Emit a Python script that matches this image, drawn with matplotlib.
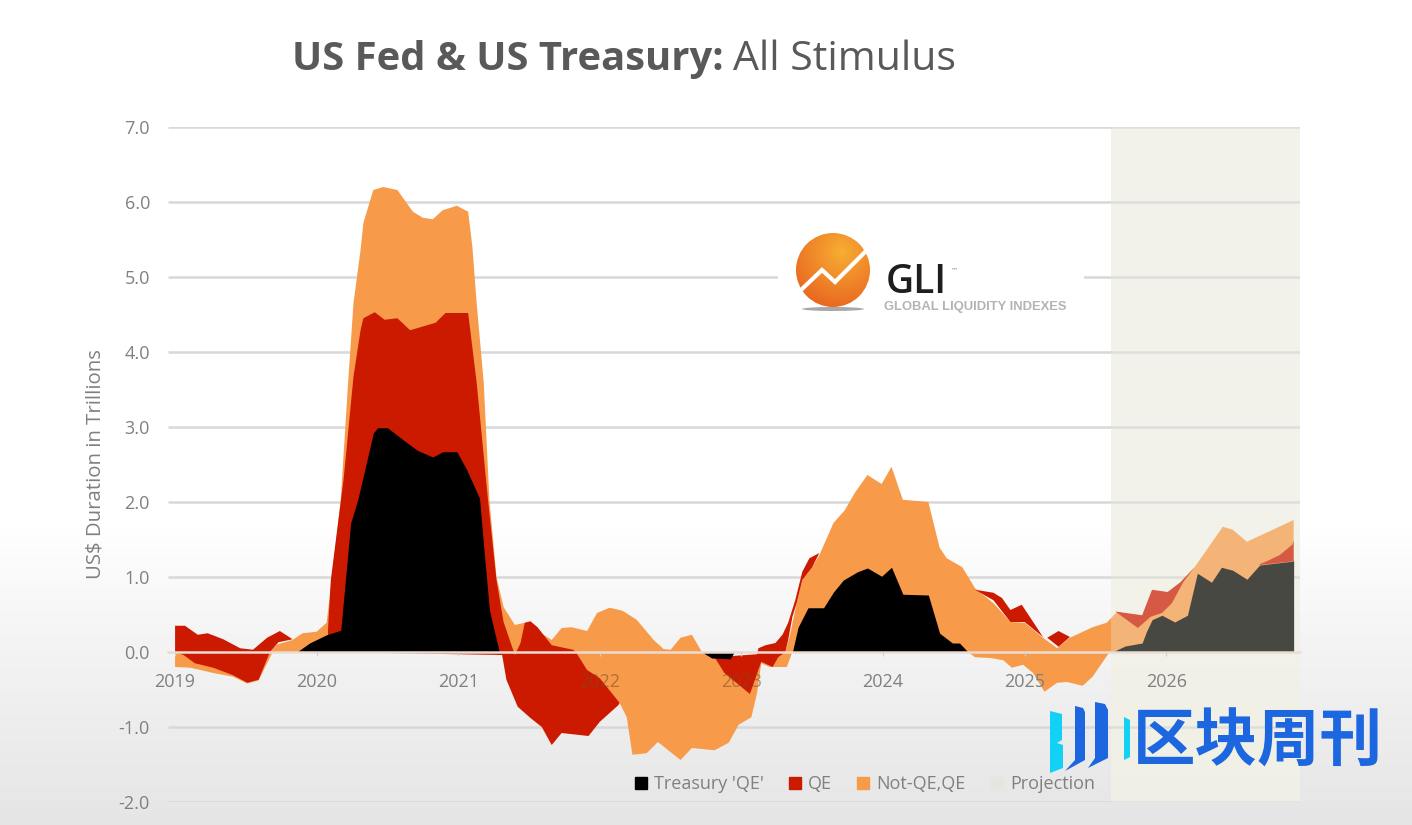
import numpy as np
import matplotlib
matplotlib.use("Agg")
import matplotlib.pyplot as plt
from matplotlib.patches import Patch, Circle, Ellipse, Polygon, Rectangle

# ---------- data (US$ trillions, x in decimal years) ----------
year_ticks = [2019, 2020, 2021, 2022, 2023, 2024, 2025, 2026]
y_ticks = [-2, -1, 0, 1, 2, 3, 4, 5, 6, 7]

orange_top_x = [2019.00,2019.67,2019.72,2019.83,2019.90,2020.00,2020.07,2020.09,2020.17,2020.22,2020.26,2020.31,2020.33,2020.40,2020.47,2020.57,2020.68,2020.75,2020.82,2020.89,2020.99,2021.07,2021.10,2021.13,2021.18,2021.22,2021.27,2021.32,2021.40,2021.47,2021.66,2021.73,2021.80,2021.91,2021.98,2022.07,2022.16,2022.26,2022.38,2022.45,2022.50,2022.57,2022.65,2022.72,2022.81,2023.11,2023.24,2023.31,2023.34,2023.39,2023.43,2023.50,2023.55,2023.65,2023.73,2023.80,2023.89,2023.99,2024.06,2024.14,2024.32,2024.40,2024.45,2024.56,2024.65,2024.78,2024.90,2025.00,2025.13,2025.23,2025.32,2025.48,2025.58,2025.65,2025.83,2025.90,2026.01,2026.10,2026.20,2026.40,2026.47,2026.57,2026.90]
orange_top_y = [0,0,0.10,0.16,0.25,0.27,0.39,0.70,2.03,3.53,4.65,5.36,5.72,6.16,6.20,6.16,5.87,5.79,5.77,5.89,5.95,5.87,5.40,4.65,3.59,2.03,1.00,0.60,0.36,0.39,0.16,0.32,0.33,0.28,0.52,0.59,0.55,0.43,0.16,0.04,0.03,0.19,0.23,0,-0.06,-0.05,-0.05,0.0,0.2,0.65,0.96,1.13,1.29,1.72,1.89,2.12,2.36,2.24,2.47,2.03,2.00,1.39,1.25,1.13,0.85,0.65,0.40,0.39,0.19,0.05,0.19,0.33,0.39,0.53,0.48,0.70,0.75,0.90,1.13,1.67,1.63,1.47,1.76]
orange_low_x = [2019.00,2019.11,2019.27,2019.41,2019.51,2019.59,2019.65,2019.69,2021.29,2021.40,2021.47,2021.60,2022.14,2022.19,2022.23,2022.33,2022.41,2022.57,2022.65,2022.81,2022.91,2022.98,2023.07,2023.11,2023.14,2023.20,2023.32,2023.36,2024.60,2024.65,2024.76,2024.85,2024.91,2024.99,2025.06,2025.14,2025.23,2025.30,2025.41,2025.48,2025.60,2026.90]
orange_low_y = [-0.20,-0.21,-0.28,-0.33,-0.42,-0.38,-0.15,0,0,-0.07,-0.07,-0.30,-0.68,-0.87,-1.37,-1.35,-1.20,-1.44,-1.28,-1.31,-1.21,-0.97,-0.87,-0.55,-0.15,-0.20,-0.20,0,0,-0.07,-0.08,-0.11,-0.21,-0.17,-0.28,-0.53,-0.41,-0.40,-0.45,-0.33,0,0]

treasury_x = [2019.86,2019.95,2020.07,2020.17,2020.24,2020.29,2020.40,2020.43,2020.50,2020.61,2020.71,2020.82,2020.89,2020.99,2021.06,2021.15,2021.18,2021.22,2021.29,2022.72,2022.79,2022.92,2022.95,2023.36,2023.40,2023.47,2023.58,2023.65,2023.72,2023.82,2023.89,2023.99,2024.06,2024.14,2024.32,2024.40,2024.49,2024.54,2024.60,2025.62,2025.71,2025.83,2025.86,2025.90,2025.97,2026.06,2026.15,2026.22,2026.32,2026.39,2026.47,2026.57,2026.66,2026.89,2026.90]
treasury_y = [0,0.12,0.23,0.29,1.72,2.03,2.92,2.99,2.99,2.83,2.69,2.60,2.67,2.67,2.43,2.05,1.40,0.56,0,0,-0.08,-0.09,0,0,0.33,0.59,0.59,0.80,0.96,1.07,1.12,1.01,1.13,0.77,0.76,0.25,0.12,0.12,0,0,0.08,0.12,0.27,0.43,0.49,0.40,0.49,1.05,0.93,1.13,1.09,0.97,1.16,1.21,1.22]

# QE bands: (top x, top y, bottom x, bottom y)
qe_2019 = ([2019.00,2019.07,2019.16,2019.23,2019.34,2019.46,2019.55,2019.65,2019.74,2019.83],
           [0.35,0.35,0.23,0.25,0.17,0.05,0.03,0.19,0.28,0.17],
           [2019.00,2019.06,2019.14,2019.27,2019.41,2019.51,2019.59,2019.67,2019.73,2019.83],
           [0,-0.04,-0.15,-0.21,-0.31,-0.41,-0.37,0,0.13,0.17])
qe_2020 = ([2020.08,2020.10,2020.19,2020.26,2020.31,2020.33,2020.41,2020.48,2020.57,2020.66,2020.84,2020.91,2021.07,2021.13,2021.21,2021.27,2021.32,2021.34,2021.40,2021.44,2021.47,2021.51,2021.56,2021.66,2021.81,2021.83,2021.91,2022.00,2022.14],
           [0.30,0.96,2.30,3.67,4.29,4.45,4.53,4.43,4.45,4.29,4.39,4.52,4.52,3.59,2.03,0.96,0.40,0.29,-0.04,0.12,0.39,0.41,0.33,0.09,0.03,0,-0.24,-0.35,-0.68],
           [2020.08,2021.31,2021.34,2021.42,2021.51,2021.59,2021.66,2021.73,2021.92,2022.00,2022.13,2022.14],
           [0,-0.04,-0.37,-0.73,-0.88,-1.00,-1.24,-1.08,-1.12,-0.93,-0.71,-0.68])
qe_2023 = ([2022.81,2023.11,2023.12,2023.17,2023.24,2023.29,2023.33,2023.38,2023.43,2023.48,2023.55],
           [-0.07,-0.03,0.05,0.09,0.12,0.23,0.39,0.69,1.07,1.25,1.32],
           [2022.81,2022.88,2023.06,2023.14,2023.22,2023.26,2023.31,2023.33,2023.36,2023.39,2023.43,2023.50,2023.55],
           [-0.07,-0.28,-0.56,-0.13,-0.20,-0.07,0,0.16,0.47,0.65,0.96,1.13,1.32])
qe_2024 = ([2024.65,2024.78,2024.84,2024.90,2024.98,2025.05,2025.13],
           [0.83,0.79,0.72,0.56,0.63,0.43,0.20],
           [2024.65,2024.78,2024.90,2025.00,2025.13],
           [0.83,0.69,0.40,0.40,0.20])
qe_2025 = ([2025.16,2025.24,2025.32], [0.19,0.28,0.20], [2025.16,2025.24,2025.32], [0.19,0.07,0.20])
qe_2026a = ([2025.64,2025.83,2025.90,2026.01,2026.10,2026.20],
            [0.54,0.49,0.83,0.80,0.93,1.13],
            [2025.64,2025.80,2025.89,2025.97,2026.04,2026.12,2026.20],
            [0.54,0.32,0.47,0.52,0.65,0.93,1.13])
qe_2026b = ([2026.66,2026.71,2026.80,2026.89,2026.90], [1.17,1.21,1.29,1.43,1.48], [2026.66,2026.90], [1.16,1.21])
qe_bands = [qe_2019, qe_2020, qe_2023, qe_2024, qe_2025, qe_2026a, qe_2026b]

legend_labels = ["Treasury 'QE'", "QE", "Not-QE,QE", "Projection"]
projection_start = 2025.61
projection_end = 2026.945

# ---------- style ----------
BLACK, RED, ORANGE = "#000000", "#cc1a00", "#f79a4a"
GREY = "#808080"
FONT = "Open Sans"
W, H = 1412, 825
plt.rcParams["font.family"] = [FONT, "DejaVu Sans"]

fig = plt.figure(figsize=(W / 100, H / 100), dpi=100, facecolor="white")

# soft background gradient
bg = fig.add_axes([0, 0, 1, 1], zorder=0)
g = np.ones((H, 1))
ramp = np.clip((np.arange(H) - 520) / (H - 520), 0, 1)
g[:, 0] = 1 - 0.105 * ramp ** 0.9
bg.imshow(g, cmap="gray", vmin=0, vmax=1, aspect="auto", extent=[0, W, H, 0])
bg.axis("off")

ax = fig.add_axes([168 / W, 1 - 802 / H, 1132 / W, 675 / H], zorder=1)
ax.patch.set_alpha(0)
ax.set_xlim(2018.95, 2026.945)
ax.set_ylim(-2, 7)

def band(tx, ty, bx, by, color, z):
    ax.fill(list(tx) + list(bx)[::-1], list(ty) + list(by)[::-1], color=color, lw=0, zorder=z)

ax.axvspan(projection_start, projection_end, color="#f2f2ea", alpha=0.8, lw=0, zorder=0.3)
ax.hlines([t for t in y_ticks if t != 0], 2018.95, 2026.945, color="#d8d8d8", lw=1.8, zorder=0.5)

band(orange_top_x, orange_top_y, orange_low_x, orange_low_y, ORANGE, 1)
for tx, ty, bx, by in qe_bands:
    band(tx, ty, bx, by, RED, 1.1)
ax.fill_between(treasury_x, treasury_y, 0, color=BLACK, lw=0, zorder=1.2)
ax.axvspan(projection_start, projection_end, color="#f0f0e1", alpha=0.3, lw=0, zorder=1.3)

for s in ["top", "right", "left"]:
    ax.spines[s].set_visible(False)
ax.spines["bottom"].set_position(("data", 0))
ax.spines["bottom"].set_color("#e9dcd2")
ax.spines["bottom"].set_linewidth(1.8)
ax.set_xticks(year_ticks)
ax.set_xticklabels([str(y) for y in year_ticks])
ax.tick_params(axis="x", length=3, color="#d0d0d0", labelsize=13, labelcolor=GREY, pad=12)
for lab, y in zip(ax.get_xticklabels(), year_ticks):
    if y in (2022, 2023):
        lab.set_color("#7d4a2a")
        lab.set_alpha(0.55)
ax.set_yticks(y_ticks)
ax.set_yticklabels([f"{v:.1f}" for v in y_ticks])
ax.tick_params(axis="y", length=0, labelsize=13, labelcolor=GREY, pad=13)
ax.set_axisbelow(False)

leg = ax.legend(
    handles=[Patch(color=BLACK), Patch(color=RED), Patch(color=ORANGE), Patch(color="#e6e6e0")],
    labels=legend_labels, ncols=4, frameon=False, loc="center",
    bbox_to_anchor=((865 - 168) / 1132, (802 - 784) / 675),
    fontsize=13, labelcolor=GREY, handlelength=0.65, handleheight=0.65,
    handletextpad=0.4, columnspacing=1.4, borderpad=0,
)

# overlay in figure pixels
ov = fig.add_axes([0, 0, 1, 1], zorder=2)
ov.patch.set_alpha(0)
ov.set_xlim(0, W)
ov.set_ylim(H, 0)
ov.axis("off")

# title and axis title
ov.text(292, 70, "US Fed & US Treasury:", fontsize=28.8, fontweight="bold", color="#595959", ha="left", va="baseline")
ov.text(733, 70, "All Stimulus", fontsize=29.5, color="#595959", ha="left", va="baseline")
ov.text(96, 464, "US$ Duration in Trillions", fontsize=14.7, color=GREY, rotation=90, ha="center", va="center")

# GLI logo
ov.add_patch(Rectangle((778, 228), 306, 90, color="white", lw=0, zorder=1))
ov.add_patch(Ellipse((833, 309), 62, 4, color="#a8a8a8", lw=0, zorder=2))
yy, xx = np.mgrid[0:1:120j, 0:1:120j]
d = np.hypot(xx - 0.62, yy - 0.25)
shade = np.clip(d / 0.85, 0, 1)
rgb = np.dstack([np.full_like(shade, 0.97) - 0.06 * shade, 0.68 - 0.30 * shade, 0.20 - 0.08 * shade])
im = ov.imshow(rgb, extent=[796, 870, 307, 233], aspect="auto", zorder=2)
im.set_clip_path(Circle((833, 270), 37, transform=ov.transData))
ov.set_xlim(0, W)
ov.set_ylim(H, 0)
ov.plot([802, 822, 835, 866], [289, 270, 282, 251], color="white", lw=3, zorder=3, solid_joinstyle="miter")
ov.text(886, 293, "GLI", fontsize=28, color="#1e1e1e", family="Open Sans", fontweight="semibold", ha="left", va="baseline", zorder=3)
ov.text(951, 272, "™", fontsize=5, color="#888888", family="DejaVu Sans", ha="left", va="baseline", zorder=3)
ov.text(884, 310, "GLOBAL LIQUIDITY INDEXES", fontsize=9.4, color="#b4b4b4", family="Liberation Sans", fontweight="bold", ha="left", va="baseline", zorder=3)

# watermark
CYAN, BLUE = "#13d0f5", "#1c66e0"
ov.add_patch(Polygon([(1050, 711), (1062, 714), (1062, 740), (1057, 743), (1063, 745), (1063, 768), (1050, 773)], color=CYAN, lw=0, zorder=4))
ov.add_patch(Polygon([(1075, 706), (1083, 708), (1085, 712), (1085, 760), (1065, 771), (1075, 760)], color=BLUE, lw=0, zorder=4))
ov.add_patch(Polygon([(1095, 702), (1105, 704), (1108, 710), (1108, 758), (1088, 768), (1095, 758)], color=BLUE, lw=0, zorder=4))
ov.add_patch(Polygon([(1124, 717), (1130, 720), (1130, 757), (1124, 760)], color=CYAN, lw=0, zorder=4))
ov.text(1258, 742, "区块周刊", fontsize=45, color=BLUE, family=["Noto Sans CJK SC", "DejaVu Sans"],
        fontweight="bold", ha="center", va="center", zorder=4)

fig.savefig("out.png", dpi=100)
